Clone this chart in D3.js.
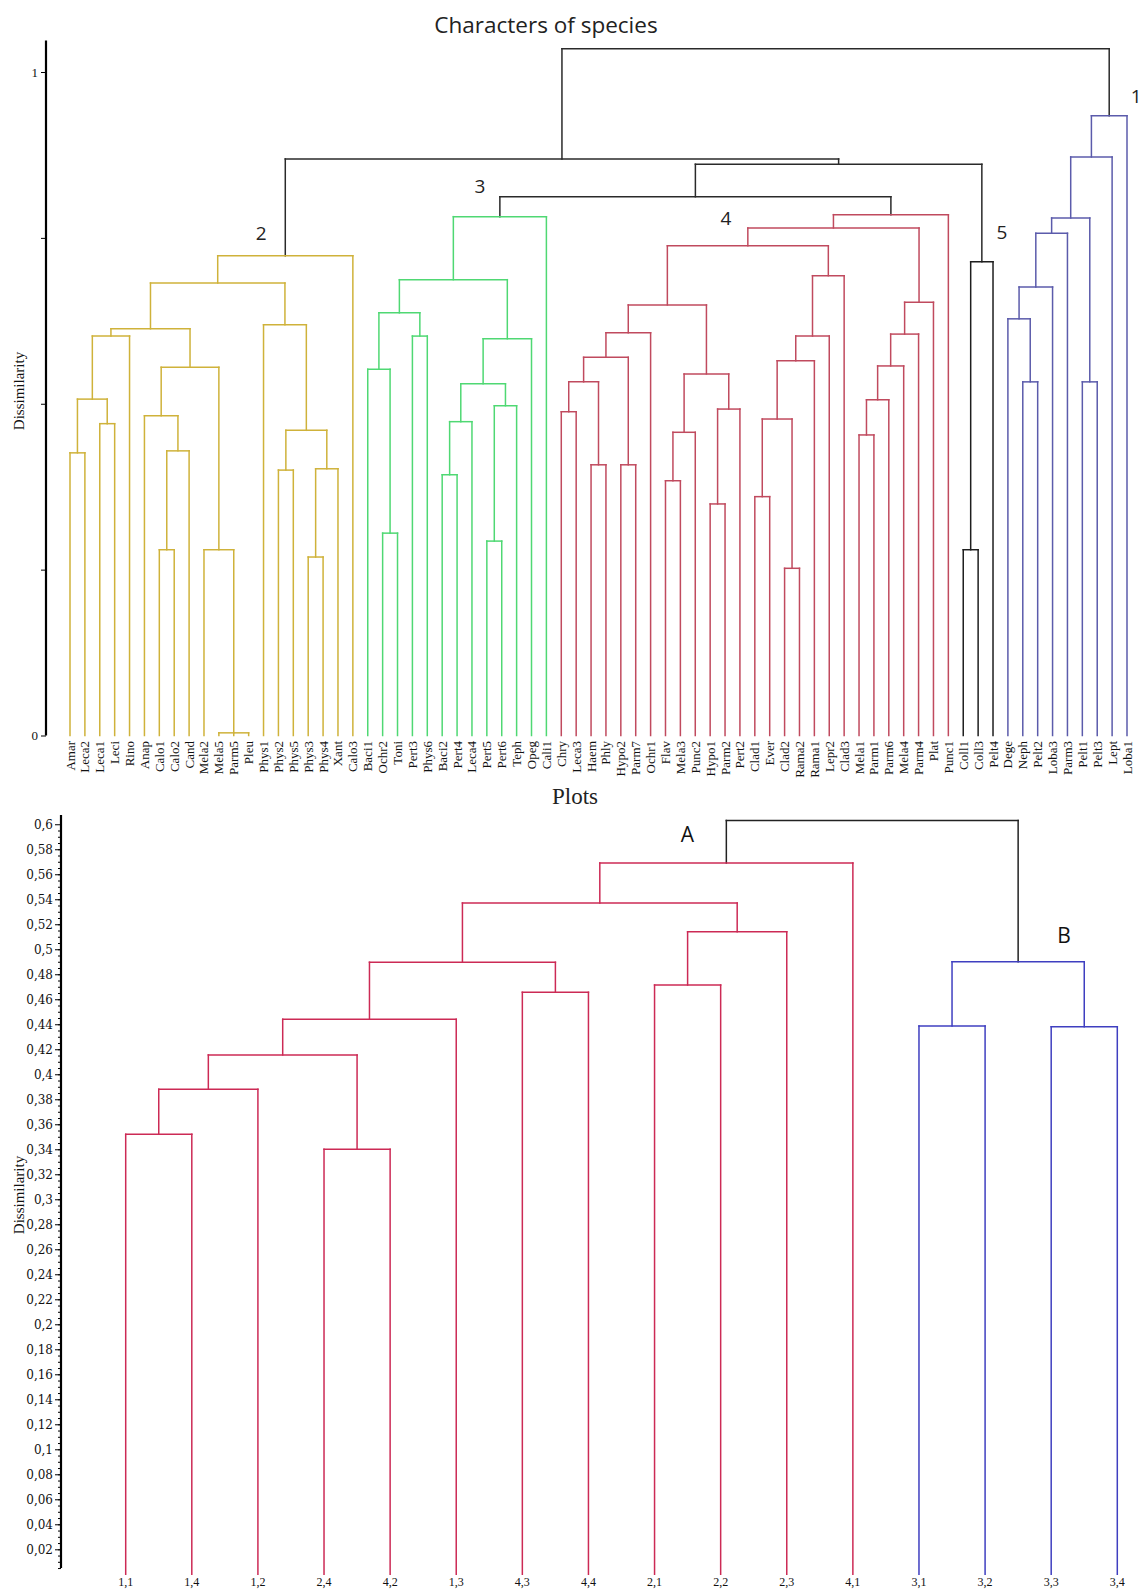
<!DOCTYPE html>
<html><head><meta charset="utf-8">
<script src="https://cdn.jsdelivr.net/npm/d3@7"></script>
<style>body{margin:0;background:#fff}svg{display:block}</style>
</head><body>
<svg id="chart" width="1143" height="1591"></svg>
<script>
// ---------------- DATA: top dendrogram (Characters of species) ----------------
const speciesLeaves = ["Amar","Leca2","Leca1","Leci","Rino","Anap","Calo1","Calo2","Cand","Mela2","Mela5","Parm5","Pleu",
  "Phys1","Phys2","Phys5","Phys3","Phys4","Xant","Calo3","Baci1","Ochr2","Toni","Pert3","Phys6","Baci2","Pert4","Leca4",
  "Pert5","Pert6","Teph","Opeg","Cali1","Chry","Leca3","Haem","Phly","Hypo2","Parm7","Ochr1","Flav","Mela3","Punc2",
  "Hypo1","Parm2","Pert2","Clad1","Ever","Clad2","Rama2","Rama1","Lepr2","Clad3","Mela1","Parm1","Parm6","Mela4","Parm4",
  "Plat","Punc1","Coll1","Coll3","Pelt4","Dege","Neph","Pelt2","Loba3","Parm3","Pelt1","Pelt3","Lept","Loba1"];

// merges: [id, children, dissimilarity]
const speciesMerges = [
  ["m1", ["Amar","Leca2"], 0.426], ["m2", ["Leca1","Leci"], 0.470], ["m3", ["m1","m2"], 0.507],
  ["m4", ["m3","Rino"], 0.602], ["m5", ["Calo1","Calo2"], 0.280], ["m6", ["m5","Cand"], 0.429],
  ["m7", ["Anap","m6"], 0.482], ["m8", ["Mela5","Parm5","Pleu"], 0.004], ["m9", ["Mela2","m8"], 0.280],
  ["m10", ["m7","m9"], 0.555], ["m11", ["m4","m10"], 0.613], ["m12", ["Phys2","Phys5"], 0.400],
  ["m13", ["Phys3","Phys4"], 0.269], ["m14", ["m13","Xant"], 0.402], ["m15", ["m12","m14"], 0.460],
  ["m16", ["Phys1","m15"], 0.619], ["m17", ["m11","m16"], 0.682], ["m18", ["m17","Calo3"], 0.723],
  ["m19", ["Ochr2","Toni"], 0.305], ["m20", ["Baci1","m19"], 0.552], ["m21", ["Pert3","Phys6"], 0.602],
  ["m22", ["m20","m21"], 0.637], ["m23", ["Baci2","Pert4"], 0.393], ["m24", ["m23","Leca4"], 0.473],
  ["m25", ["Pert5","Pert6"], 0.293], ["m26", ["m25","Teph"], 0.497], ["m27", ["m24","m26"], 0.530],
  ["m28", ["m27","Opeg"], 0.598], ["m29", ["m22","m28"], 0.687], ["m30", ["m29","Cali1"], 0.782],
  ["m31", ["Chry","Leca3"], 0.488], ["m32", ["Haem","Phly"], 0.408], ["m33", ["m31","m32"], 0.533],
  ["m34", ["Hypo2","Parm7"], 0.408], ["m35", ["m33","m34"], 0.570], ["m36", ["m35","Ochr1"], 0.607],
  ["m37", ["Flav","Mela3"], 0.384], ["m38", ["m37","Punc2"], 0.457], ["m39", ["Hypo1","Parm2"], 0.349],
  ["m40", ["m39","Pert2"], 0.492], ["m41", ["m38","m40"], 0.545], ["m42", ["m36","m41"], 0.649],
  ["m43", ["Clad1","Ever"], 0.360], ["m44", ["Clad2","Rama2"], 0.252], ["m45", ["m43","m44"], 0.477],
  ["m46", ["m45","Rama1"], 0.565], ["m47", ["m46","Lepr2"], 0.602], ["m48", ["m47","Clad3"], 0.693],
  ["m49", ["m42","m48"], 0.738], ["m50", ["Mela1","Parm1"], 0.453], ["m51", ["m50","Parm6"], 0.506],
  ["m52", ["m51","Mela4"], 0.557], ["m53", ["m52","Parm4"], 0.605], ["m54", ["m53","Plat"], 0.653],
  ["m55", ["m49","m54"], 0.765], ["m56", ["m55","Punc1"], 0.785],
  ["m57", ["Coll1","Coll3"], 0.280], ["m58", ["m57","Pelt4"], 0.714],
  ["m59", ["m30","m56"], 0.812], ["m60", ["m59","m58"], 0.861], ["m61", ["m18","m60"], 0.869],
  ["m62", ["Neph","Pelt2"], 0.533], ["m63", ["Dege","m62"], 0.628], ["m64", ["m63","Loba3"], 0.676],
  ["m65", ["m64","Parm3"], 0.757], ["m66", ["Pelt1","Pelt3"], 0.533], ["m67", ["m65","m66"], 0.780],
  ["m68", ["m67","Lept"], 0.872], ["m69", ["m68","Loba1"], 0.934],
  ["m70", ["m61","m69"], 1.035]
];
const speciesClusterNodes = ["m69","m18","m30","m56","m58"];
const speciesClusterLabels = ["1","2","3","4","5"];
const speciesTickValues = [0, 0.25, 0.5, 0.75, 1];
const speciesTickLabels = ["0", "", "", "", "1"];

// ---------------- DATA: bottom dendrogram (Plots) ----------------
const plotLeaves = ["1,1","1,4","1,2","2,4","4,2","1,3","4,3","4,4","2,1","2,2","2,3","4,1","3,1","3,2","3,3","3,4"];
const plotMerges = [
  ["b1", ["1,1","1,4"], 0.352], ["b2", ["b1","1,2"], 0.388], ["b3", ["2,4","4,2"], 0.340],
  ["b4", ["b2","b3"], 0.4155], ["b5", ["b4","1,3"], 0.444], ["b6", ["4,3","4,4"], 0.4656],
  ["b7", ["b5","b6"], 0.4896], ["b8", ["2,1","2,2"], 0.4714], ["b9", ["b8","2,3"], 0.514],
  ["b10", ["b7","b9"], 0.537], ["b11", ["b10","4,1"], 0.569],
  ["b12", ["3,1","3,2"], 0.4386], ["b13", ["3,3","3,4"], 0.438], ["b14", ["b12","b13"], 0.490],
  ["b15", ["b11","b14"], 0.603]
];
const plotClusterNodes = ["b11","b14"];
const plotClusterLabels = ["A","B"];
const plotTickValues = [0.02,0.04,0.06,0.08,0.1,0.12,0.14,0.16,0.18,0.2,0.22,0.24,0.26,0.28,0.3,
  0.32,0.34,0.36,0.38,0.4,0.42,0.44,0.46,0.48,0.5,0.52,0.54,0.56,0.58,0.6];
const plotTickLabels = ["0,02","0,04","0,06","0,08","0,1","0,12","0,14","0,16","0,18","0,2","0,22","0,24",
  "0,26","0,28","0,3","0,32","0,34","0,36","0,38","0,4","0,42","0,44","0,46","0,48","0,5","0,52","0,54",
  "0,56","0,58","0,6"];

// ---------------- DRAWING ----------------
const svg = d3.select("#chart");

function buildTree(leaves, merges) {
  const nodes = {};
  leaves.forEach(l => nodes[l] = {name: l, h: 0});
  merges.forEach(([id, ch, h]) => { nodes[id] = {name: id, h: h, children: ch.map(c => nodes[c])}; });
  return d3.hierarchy(nodes[merges[merges.length - 1][0]]);
}

function drawDendrogram(g, leaves, merges, x, y, clusterNodes, colors, baseColor, width) {
  const root = buildTree(leaves, merges);
  root.eachAfter(n => {
    if (!n.children) n.x = x(n.data.name);
    else n.x = (n.children[0].x + n.children[n.children.length - 1].x) / 2;
  });
  root.each(n => n.color = baseColor);
  clusterNodes.forEach((id, i) => {
    const c = root.find(n => n.data.name === id);
    c.each(n => n.color = colors[i]);
  });
  const segs = [];
  root.each(n => {
    if (!n.children) return;
    const xs = n.children.map(c => c.x);
    segs.push({x1: d3.min(xs), x2: d3.max(xs), y1: y(n.data.h), y2: y(n.data.h), c: n.color});
    n.children.forEach(c => segs.push({x1: c.x, x2: c.x, y1: y(c.data.h), y2: y(n.data.h), c: n.color}));
  });
  g.selectAll("line.seg").data(segs).join("line").attr("class", "seg")
    .attr("x1", d => d.x1).attr("x2", d => d.x2).attr("y1", d => d.y1).attr("y2", d => d.y2)
    .attr("stroke", d => d.c).attr("stroke-width", width).attr("stroke-linecap", "square");
  return root;
}

// ----- Top chart -----
const gTop = svg.append("g");
const xTop = d3.scalePoint().domain(speciesLeaves).range([70, 1127]);
const yTop = d3.scaleLinear().domain([0, 1.0475]).range([735.5, 40.5]);
const topColors = ["#5b5bab", "#cfb23a", "#4fd873", "#c04a5e", "#1e1e1e"];
const topRoot = drawDendrogram(gTop, speciesLeaves, speciesMerges, xTop, yTop, speciesClusterNodes, topColors, "#2a2a2a", 1.5);

gTop.append("g").attr("transform", "translate(46,0)")
  .call(d3.axisLeft(yTop).tickValues(speciesTickValues).tickSize(5).tickPadding(3)
    .tickFormat((d, i) => speciesTickLabels[i]))
  .call(a => a.select(".domain").attr("stroke-width", 2.2).attr("d", "M0," + yTop.range()[0] + "V" + yTop.range()[1]))
  .call(a => a.selectAll("text").attr("font-family", "Liberation Serif").attr("font-size", 13).attr("fill", "#111"));

gTop.append("text").attr("x", 546).attr("y", 33).attr("text-anchor", "middle")
  .attr("font-family", "Open Sans").attr("font-size", 22.5).attr("fill", "#222").text("Characters of species");
gTop.append("text").attr("transform", "translate(24,391) rotate(-90)").attr("text-anchor", "middle")
  .attr("font-family", "Liberation Serif").attr("font-size", 15).attr("fill", "#111").text("Dissimilarity");

gTop.selectAll("text.leaf").data(speciesLeaves).join("text").attr("class", "leaf")
  .attr("transform", d => `translate(${xTop(d) + 4.5},741) rotate(-90)`)
  .attr("text-anchor", "end").attr("font-family", "Liberation Serif").attr("font-size", 13)
  .attr("fill", "#111").text(d => d);

const topLabelOffsets = [[27, -13], [-24, -16], [-20, -24], [-165, 10], [20, -23]];
speciesClusterNodes.forEach((id, i) => {
  const n = topRoot.find(k => k.data.name === id);
  gTop.append("text").attr("x", n.x + topLabelOffsets[i][0]).attr("y", yTop(n.data.h) + topLabelOffsets[i][1])
    .attr("text-anchor", "middle").attr("font-family", "Open Sans").attr("font-size", 19)
    .attr("fill", "#222").text(speciesClusterLabels[i]);
});

// ----- Bottom chart -----
const gBot = svg.append("g");
const xBot = d3.scalePoint().domain(plotLeaves).range([125.7, 1117.3]);
const yBot = d3.scaleLinear().domain([0, 0.6074]).range([1574.3, 815]);
const botColors = ["#cc2a55", "#3f3fc0"];
const botRoot = drawDendrogram(gBot, plotLeaves, plotMerges, xBot, yBot, plotClusterNodes, botColors, "#222", 1.5);

const minorTicks = d3.range(0.005, 0.6, 0.005);
gBot.append("g").attr("transform", "translate(61,0)")
  .call(d3.axisLeft(yBot).tickValues(minorTicks).tickSize(3).tickFormat(""))
  .call(a => a.select(".domain").remove());
gBot.append("g").attr("transform", "translate(61,0)")
  .call(d3.axisLeft(yBot).tickValues(plotTickValues).tickSize(6).tickPadding(2)
    .tickFormat((d, i) => plotTickLabels[i]))
  .call(a => a.select(".domain").attr("stroke-width", 2.2).attr("d", "M0,1568V815"))
  .call(a => a.selectAll("text").attr("font-family", "DejaVu Serif").attr("font-size", 12).attr("fill", "#111"));

gBot.append("text").attr("x", 575).attr("y", 804).attr("text-anchor", "middle")
  .attr("font-family", "Liberation Serif").attr("font-size", 23).attr("fill", "#222").text("Plots");
gBot.append("text").attr("transform", "translate(24,1195) rotate(-90)").attr("text-anchor", "middle")
  .attr("font-family", "Liberation Serif").attr("font-size", 15).attr("fill", "#111").text("Dissimilarity");

gBot.selectAll("text.leaf").data(plotLeaves).join("text").attr("class", "leaf")
  .attr("x", d => xBot(d)).attr("y", 1586).attr("text-anchor", "middle")
  .attr("font-family", "Liberation Serif").attr("font-size", 12).attr("fill", "#111").text(d => d);

const botLabelOffsets = [[-39, -21], [46, -19]];
plotClusterNodes.forEach((id, i) => {
  const n = botRoot.find(k => k.data.name === id);
  gBot.append("text").attr("x", n.x + botLabelOffsets[i][0]).attr("y", yBot(n.data.h) + botLabelOffsets[i][1])
    .attr("text-anchor", "middle").attr("font-family", "Open Sans").attr("font-size", 21)
    .attr("fill", "#111").text(plotClusterLabels[i]);
});
</script>
</body></html>
